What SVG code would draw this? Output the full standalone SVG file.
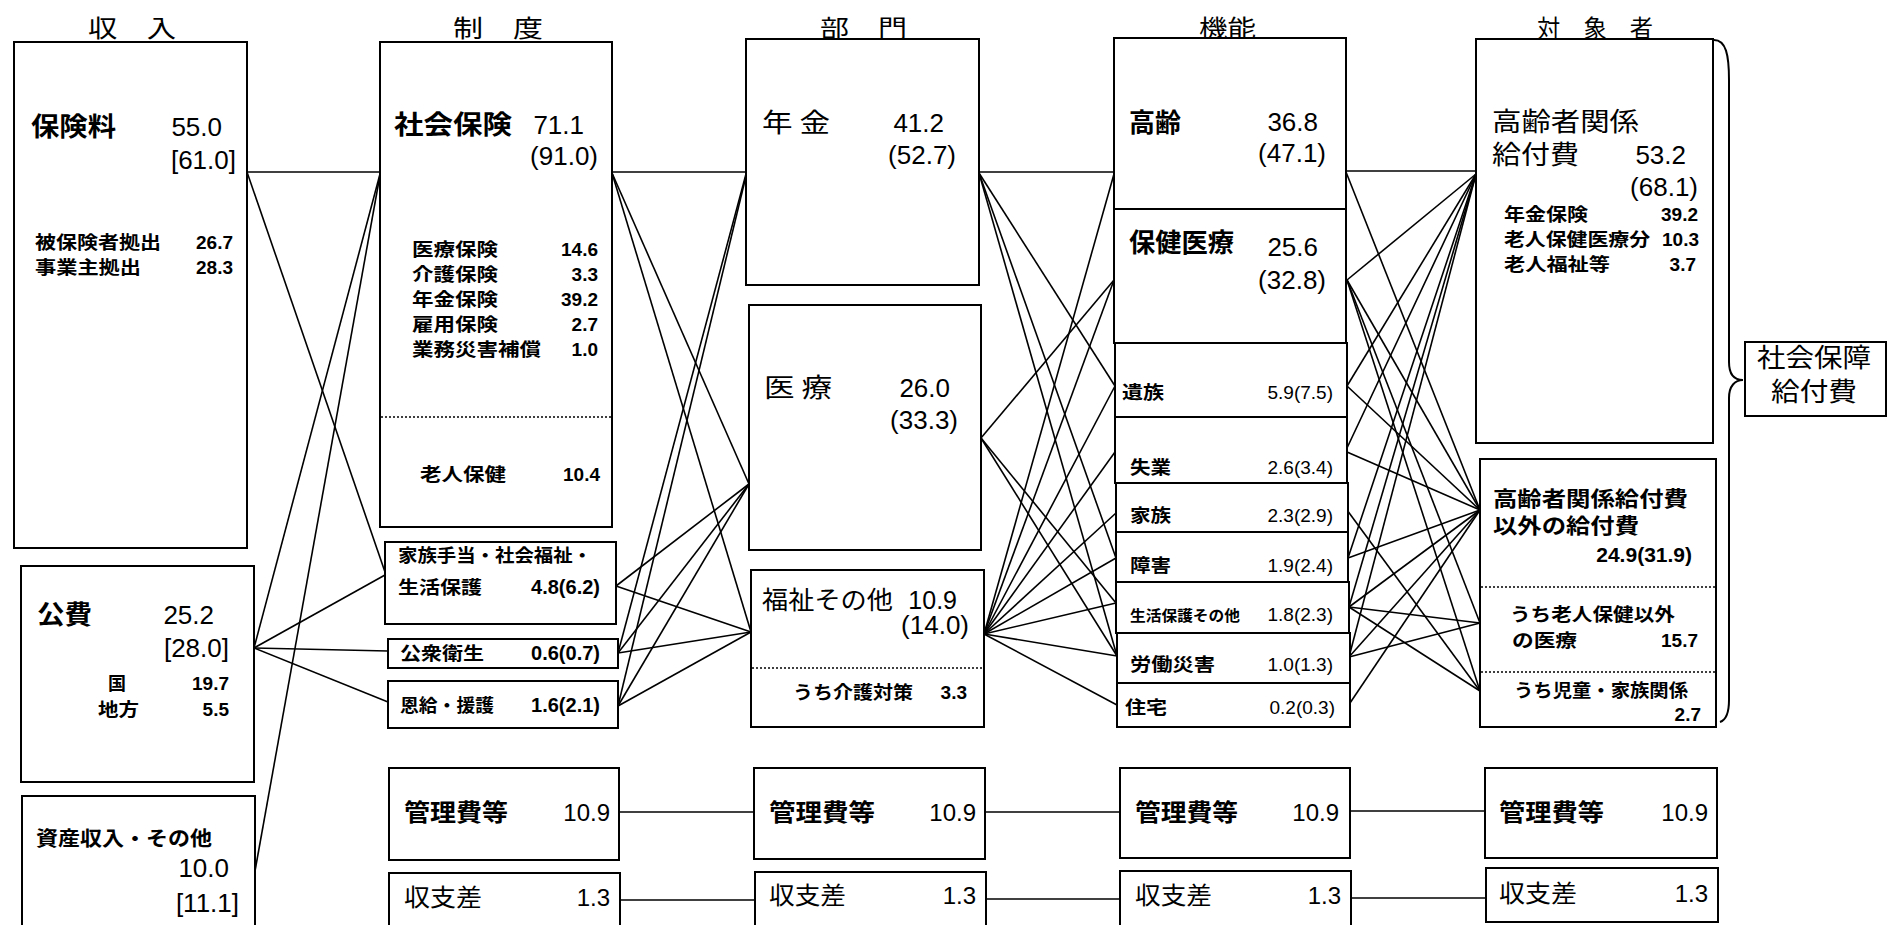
<svg xmlns="http://www.w3.org/2000/svg" width="1897" height="925" viewBox="0 0 1897 925">
<style>
.bg{fill:#fff}
.box{fill:#fff;stroke:#000;stroke-width:2}
.ln{stroke:#000;stroke-width:1.6;fill:none}
.dot{stroke:#000;stroke-width:1.6;stroke-dasharray:2 2;fill:none}
.j{font-family:"Noto Sans CJK JP","Noto Sans CJK SC",sans-serif;fill:#000}
.b{font-weight:700}
.n{font-family:"Liberation Sans",Arial,sans-serif;fill:#000;text-anchor:end}
.h{font-size:24px}
.L{font-size:26px}
.M{font-size:24px}
.S{font-size:18px}
.nL{font-size:26px}
.nM{font-size:24px}
.nS{font-size:19px}
</style>
<rect class="bg" x="0" y="0" width="1897" height="925"/>

<g id="headers">
<text class="j h" x="88" y="37" textLength="88" lengthAdjust="spacingAndGlyphs">収　入</text>
<text class="j h" x="453" y="37" textLength="90" lengthAdjust="spacingAndGlyphs">制　度</text>
<text class="j h" x="820" y="37" textLength="87" lengthAdjust="spacingAndGlyphs">部　門</text>
<text class="j h" x="1199" y="37" textLength="57" lengthAdjust="spacingAndGlyphs">機能</text>
<text class="j h" x="1537" y="37" textLength="116" lengthAdjust="spacingAndGlyphs">対　象　者</text>
</g>

<g id="connectors">
<line class="ln" x1="247" y1="172" x2="380" y2="172"/>
<line class="ln" x1="247" y1="172" x2="385" y2="572"/>
<line class="ln" x1="254" y1="648" x2="380" y2="174"/>
<line class="ln" x1="254" y1="648" x2="385" y2="575"/>
<line class="ln" x1="254" y1="648" x2="388" y2="651"/>
<line class="ln" x1="254" y1="648" x2="388" y2="702"/>
<line class="ln" x1="255" y1="871" x2="380" y2="175"/>
<line class="ln" x1="612" y1="172" x2="746" y2="172"/>
<line class="ln" x1="612" y1="173" x2="749" y2="484"/>
<line class="ln" x1="612" y1="173" x2="751" y2="632"/>
<line class="ln" x1="616" y1="586" x2="749" y2="484"/>
<line class="ln" x1="616" y1="586" x2="751" y2="632"/>
<line class="ln" x1="618" y1="653" x2="746" y2="174"/>
<line class="ln" x1="618" y1="653" x2="749" y2="484"/>
<line class="ln" x1="618" y1="653" x2="751" y2="632"/>
<line class="ln" x1="618" y1="706" x2="746" y2="176"/>
<line class="ln" x1="618" y1="706" x2="749" y2="484"/>
<line class="ln" x1="618" y1="706" x2="751" y2="632"/>
<line class="ln" x1="979" y1="172" x2="1114" y2="172"/>
<line class="ln" x1="979" y1="173" x2="1115" y2="386"/>
<line class="ln" x1="979" y1="173" x2="1116" y2="558"/>
<line class="ln" x1="979" y1="173" x2="1117" y2="656"/>
<line class="ln" x1="981" y1="438" x2="1114" y2="280"/>
<line class="ln" x1="981" y1="438" x2="1116" y2="603"/>
<line class="ln" x1="981" y1="438" x2="1117" y2="656"/>
<line class="ln" x1="984" y1="634" x2="1114" y2="174"/>
<line class="ln" x1="984" y1="634" x2="1114" y2="280"/>
<line class="ln" x1="984" y1="634" x2="1115" y2="386"/>
<line class="ln" x1="984" y1="634" x2="1115" y2="452"/>
<line class="ln" x1="984" y1="634" x2="1116" y2="513"/>
<line class="ln" x1="984" y1="634" x2="1116" y2="558"/>
<line class="ln" x1="984" y1="634" x2="1116" y2="603"/>
<line class="ln" x1="984" y1="634" x2="1117" y2="656"/>
<line class="ln" x1="984" y1="634" x2="1117" y2="705"/>
<line class="ln" x1="1346" y1="171" x2="1476" y2="171"/>
<line class="ln" x1="1346" y1="172" x2="1480" y2="510"/>
<line class="ln" x1="1347" y1="280" x2="1476" y2="174"/>
<line class="ln" x1="1347" y1="280" x2="1480" y2="510"/>
<line class="ln" x1="1347" y1="280" x2="1480" y2="623"/>
<line class="ln" x1="1347" y1="280" x2="1480" y2="691"/>
<line class="ln" x1="1347" y1="386" x2="1476" y2="174"/>
<line class="ln" x1="1347" y1="386" x2="1480" y2="510"/>
<line class="ln" x1="1347" y1="448" x2="1476" y2="174"/>
<line class="ln" x1="1347" y1="452" x2="1480" y2="510"/>
<line class="ln" x1="1347" y1="510" x2="1480" y2="691"/>
<line class="ln" x1="1348" y1="558" x2="1476" y2="174"/>
<line class="ln" x1="1348" y1="558" x2="1480" y2="510"/>
<line class="ln" x1="1349" y1="607" x2="1476" y2="174"/>
<line class="ln" x1="1349" y1="607" x2="1480" y2="510"/>
<line class="ln" x1="1349" y1="607" x2="1480" y2="623"/>
<line class="ln" x1="1349" y1="607" x2="1480" y2="691"/>
<line class="ln" x1="1349" y1="657" x2="1476" y2="174"/>
<line class="ln" x1="1349" y1="657" x2="1480" y2="510"/>
<line class="ln" x1="1349" y1="657" x2="1480" y2="623"/>
<line class="ln" x1="1350" y1="703" x2="1480" y2="510"/>
<line class="ln" x1="619" y1="812" x2="754" y2="812"/>
<line class="ln" x1="985" y1="812" x2="1120" y2="812"/>
<line class="ln" x1="1350" y1="811" x2="1485" y2="811"/>
<line class="ln" x1="620" y1="900" x2="755" y2="900"/>
<line class="ln" x1="986" y1="899" x2="1120" y2="899"/>
<line class="ln" x1="1351" y1="898" x2="1486" y2="898"/>
</g>

<g id="n-hokenryo">
<rect class="box" x="14" y="42" width="233" height="506"/>
<text class="j L b" x="31" y="136" textLength="85" lengthAdjust="spacingAndGlyphs">保険料</text>
<text class="n nL" x="222" y="136">55.0</text>
<text class="n nL" x="236" y="169">[61.0]</text>
<text class="j S b" x="35" y="249" textLength="126" lengthAdjust="spacingAndGlyphs">被保険者拠出</text>
<text class="n nS b" x="233" y="249">26.7</text>
<text class="j S b" x="35" y="274" textLength="106" lengthAdjust="spacingAndGlyphs">事業主拠出</text>
<text class="n nS b" x="233" y="274">28.3</text>
</g>
<g id="n-kouhi">
<rect class="box" x="21" y="566" width="233" height="216"/>
<text class="j L b" x="37" y="624" textLength="55" lengthAdjust="spacingAndGlyphs">公費</text>
<text class="n nL" x="214" y="624">25.2</text>
<text class="n nL" x="229" y="657">[28.0]</text>
<text class="j S b" x="108" y="690">国</text>
<text class="n nS b" x="229" y="690">19.7</text>
<text class="j S b" x="98" y="716" textLength="41" lengthAdjust="spacingAndGlyphs">地方</text>
<text class="n nS b" x="229" y="716">5.5</text>
</g>
<g id="n-shisan">
<rect class="box" x="22" y="796" width="233" height="150"/>
<text class="j b" style="font-size:20px" x="36" y="846" textLength="176" lengthAdjust="spacingAndGlyphs">資産収入・その他</text>
<text class="n nL" x="229" y="877">10.0</text>
<text class="n nL" x="239" y="912">[11.1]</text>
</g>

<g id="n-shakaihoken">
<rect class="box" x="380" y="42" width="232" height="485"/>
<line class="dot" x1="381" y1="417" x2="611" y2="417"/>
<text class="j L b" x="394" y="134" textLength="118" lengthAdjust="spacingAndGlyphs">社会保険</text>
<text class="n nL" x="584" y="134">71.1</text>
<text class="n nL" x="598" y="165">(91.0)</text>
<text class="j S b" x="412" y="256" textLength="86" lengthAdjust="spacingAndGlyphs">医療保険</text>
<text class="n nS b" x="598" y="256">14.6</text>
<text class="j S b" x="412" y="281" textLength="86" lengthAdjust="spacingAndGlyphs">介護保険</text>
<text class="n nS b" x="598" y="281">3.3</text>
<text class="j S b" x="412" y="306" textLength="86" lengthAdjust="spacingAndGlyphs">年金保険</text>
<text class="n nS b" x="598" y="306">39.2</text>
<text class="j S b" x="412" y="331" textLength="86" lengthAdjust="spacingAndGlyphs">雇用保険</text>
<text class="n nS b" x="598" y="331">2.7</text>
<text class="j S b" x="412" y="356" textLength="129" lengthAdjust="spacingAndGlyphs">業務災害補償</text>
<text class="n nS b" x="598" y="356">1.0</text>
<text class="j S b" x="420" y="481" textLength="86" lengthAdjust="spacingAndGlyphs">老人保健</text>
<text class="n nS b" x="600" y="481">10.4</text>
</g>
<g id="n-kazoku-teate">
<rect class="box" x="385" y="542" width="231" height="82"/>
<text class="j S b" x="398" y="562" textLength="194" lengthAdjust="spacingAndGlyphs">家族手当・社会福祉・</text>
<text class="j S b" x="398" y="594" textLength="84" lengthAdjust="spacingAndGlyphs">生活保護</text>
<text class="n b" style="font-size:20px" x="600" y="594">4.8(6.2)</text>
</g>
<g id="n-koshu">
<rect class="box" x="388" y="639" width="230" height="29"/>
<text class="j S b" x="400" y="660" textLength="84" lengthAdjust="spacingAndGlyphs">公衆衛生</text>
<text class="n b" style="font-size:20px" x="600" y="660">0.6(0.7)</text>
</g>
<g id="n-onkyu">
<rect class="box" x="388" y="681" width="230" height="47"/>
<text class="j S b" x="400" y="712" textLength="94" lengthAdjust="spacingAndGlyphs">恩給・援護</text>
<text class="n b" style="font-size:20px" x="600" y="712">1.6(2.1)</text>
</g>
<g id="n-kanri-1">
<rect class="box" x="389" y="768" width="230" height="92"/>
<text class="j M b" x="404" y="821" textLength="104" lengthAdjust="spacingAndGlyphs">管理費等</text>
<text class="n nM" x="610" y="821">10.9</text>
</g>
<g id="n-shushi-1">
<rect class="box" x="389" y="873" width="231" height="70"/>
<text class="j M" x="404" y="906" textLength="78" lengthAdjust="spacingAndGlyphs">収支差</text>
<text class="n nM" x="610" y="906">1.3</text>
</g>

<g id="n-nenkin">
<rect class="box" x="746" y="39" width="233" height="246"/>
<text class="j L" x="762" y="132" textLength="68" lengthAdjust="spacingAndGlyphs">年 金</text>
<text class="n nL" x="944" y="132">41.2</text>
<text class="n nL" x="956" y="164">(52.7)</text>
</g>
<g id="n-iryo">
<rect class="box" x="749" y="305" width="232" height="245"/>
<text class="j L" x="764" y="397" textLength="68" lengthAdjust="spacingAndGlyphs">医 療</text>
<text class="n nL" x="950" y="397">26.0</text>
<text class="n nL" x="958" y="429">(33.3)</text>
</g>
<g id="n-fukushi">
<rect class="box" x="751" y="570" width="233" height="157"/>
<line class="dot" x1="752" y1="668" x2="983" y2="668"/>
<text class="j" style="font-size:25px" x="762" y="609" textLength="131" lengthAdjust="spacingAndGlyphs">福祉その他</text>
<text class="n" style="font-size:25px" x="957" y="609">10.9</text>
<text class="n nL" x="969" y="634">(14.0)</text>
<text class="j S b" x="793" y="699" textLength="120" lengthAdjust="spacingAndGlyphs">うち介護対策</text>
<text class="n nS b" x="967" y="699">3.3</text>
</g>
<g id="n-kanri-2">
<rect class="box" x="754" y="768" width="231" height="91"/>
<text class="j M b" x="769" y="821" textLength="106" lengthAdjust="spacingAndGlyphs">管理費等</text>
<text class="n nM" x="976" y="821">10.9</text>
</g>
<g id="n-shushi-2">
<rect class="box" x="755" y="872" width="231" height="70"/>
<text class="j M" x="769" y="904" textLength="77" lengthAdjust="spacingAndGlyphs">収支差</text>
<text class="n nM" x="976" y="904">1.3</text>
</g>

<g id="n-korei">
<rect class="box" x="1114" y="38" width="232" height="171"/>
<text class="j L b" x="1129" y="132" textLength="52" lengthAdjust="spacingAndGlyphs">高齢</text>
<text class="n nL" x="1318" y="131">36.8</text>
<text class="n nL" x="1326" y="162">(47.1)</text>
</g>
<g id="n-hoken-iryo">
<rect class="box" x="1114" y="209" width="232" height="134"/>
<text class="j L b" x="1129" y="252" textLength="105" lengthAdjust="spacingAndGlyphs">保健医療</text>
<text class="n nL" x="1318" y="256">25.6</text>
<text class="n nL" x="1326" y="289">(32.8)</text>
</g>
<g id="n-izoku">
<rect class="box" x="1115" y="343" width="232" height="74"/>
<text class="j S b" x="1122" y="399" textLength="42" lengthAdjust="spacingAndGlyphs">遺族</text>
<text class="n nS" x="1333" y="399">5.9(7.5)</text>
</g>
<g id="n-shitsugyo">
<rect class="box" x="1115" y="417" width="232" height="66"/>
<text class="j S b" x="1130" y="474" textLength="41" lengthAdjust="spacingAndGlyphs">失業</text>
<text class="n nS" x="1333" y="474">2.6(3.4)</text>
</g>
<g id="n-kazoku">
<rect class="box" x="1116" y="483" width="232" height="49"/>
<text class="j S b" x="1130" y="522" textLength="41" lengthAdjust="spacingAndGlyphs">家族</text>
<text class="n nS" x="1333" y="522">2.3(2.9)</text>
</g>
<g id="n-shogai">
<rect class="box" x="1116" y="532" width="232" height="50"/>
<text class="j S b" x="1130" y="572" textLength="41" lengthAdjust="spacingAndGlyphs">障害</text>
<text class="n nS" x="1333" y="572">1.9(2.4)</text>
</g>
<g id="n-seikatsu">
<rect class="box" x="1116" y="582" width="233" height="51"/>
<text class="j b" style="font-size:15px" x="1130" y="621" textLength="110" lengthAdjust="spacingAndGlyphs">生活保護その他</text>
<text class="n nS" x="1333" y="621">1.8(2.3)</text>
</g>
<g id="n-rodo">
<rect class="box" x="1117" y="633" width="233" height="50"/>
<text class="j S b" x="1130" y="671" textLength="85" lengthAdjust="spacingAndGlyphs">労働災害</text>
<text class="n nS" x="1333" y="671">1.0(1.3)</text>
</g>
<g id="n-jutaku">
<rect class="box" x="1117" y="683" width="233" height="44"/>
<text class="j S b" x="1125" y="714" textLength="42" lengthAdjust="spacingAndGlyphs">住宅</text>
<text class="n nS" x="1335" y="714">0.2(0.3)</text>
</g>
<g id="n-kanri-3">
<rect class="box" x="1120" y="768" width="230" height="90"/>
<text class="j M b" x="1135" y="821" textLength="103" lengthAdjust="spacingAndGlyphs">管理費等</text>
<text class="n nM" x="1339" y="821">10.9</text>
</g>
<g id="n-shushi-3">
<rect class="box" x="1120" y="871" width="231" height="70"/>
<text class="j M" x="1135" y="904" textLength="77" lengthAdjust="spacingAndGlyphs">収支差</text>
<text class="n nM" x="1341" y="904">1.3</text>
</g>

<g id="n-koreisha">
<rect class="box" x="1476" y="39" width="237" height="404"/>
<text class="j L" x="1492" y="131" textLength="147" lengthAdjust="spacingAndGlyphs">高齢者関係</text>
<text class="j L" x="1492" y="164" textLength="87" lengthAdjust="spacingAndGlyphs">給付費</text>
<text class="n nL" x="1686" y="164">53.2</text>
<text class="n nL" x="1698" y="196">(68.1)</text>
<text class="j S b" x="1504" y="221" textLength="84" lengthAdjust="spacingAndGlyphs">年金保険</text>
<text class="n nS b" x="1698" y="221">39.2</text>
<text class="j S b" x="1504" y="246" textLength="146" lengthAdjust="spacingAndGlyphs">老人保健医療分</text>
<text class="n nS b" x="1699" y="246">10.3</text>
<text class="j S b" x="1504" y="271" textLength="106" lengthAdjust="spacingAndGlyphs">老人福祉等</text>
<text class="n nS b" x="1696" y="271">3.7</text>
</g>
<g id="n-igai">
<rect class="box" x="1480" y="459" width="236" height="268"/>
<line class="dot" x1="1481" y1="587" x2="1715" y2="587"/>
<line class="dot" x1="1481" y1="672" x2="1715" y2="672"/>
<text class="j b" style="font-size:21px" x="1493" y="506" textLength="195" lengthAdjust="spacingAndGlyphs">高齢者関係給付費</text>
<text class="j b" style="font-size:21px" x="1493" y="533" textLength="146" lengthAdjust="spacingAndGlyphs">以外の給付費</text>
<text class="n b" style="font-size:21px" x="1692" y="562">24.9(31.9)</text>
<text class="j S b" x="1510" y="621" textLength="165" lengthAdjust="spacingAndGlyphs">うち老人保健以外</text>
<text class="j S b" x="1512" y="647" textLength="65" lengthAdjust="spacingAndGlyphs">の医療</text>
<text class="n nS b" x="1698" y="647">15.7</text>
<text class="j S b" x="1514" y="697" textLength="174" lengthAdjust="spacingAndGlyphs">うち児童・家族関係</text>
<text class="n nS b" x="1701" y="721">2.7</text>
</g>
<g id="n-kanri-4">
<rect class="box" x="1485" y="768" width="232" height="90"/>
<text class="j M b" x="1499" y="821" textLength="105" lengthAdjust="spacingAndGlyphs">管理費等</text>
<text class="n nM" x="1708" y="821">10.9</text>
</g>
<g id="n-shushi-4">
<rect class="box" x="1486" y="868" width="232" height="54"/>
<text class="j M" x="1499" y="902" textLength="78" lengthAdjust="spacingAndGlyphs">収支差</text>
<text class="n nM" x="1708" y="902">1.3</text>
</g>

<g id="n-total">
<path class="ln" style="stroke-width:2" d="M1714,40 C1726,40 1729,55 1729,80 L1729,362 C1729,375 1735,380 1743,380 C1735,380 1729,386 1729,398 L1729,700 C1729,712 1726,720 1720,722"/>
<rect class="box" x="1745" y="342" width="141" height="74"/>
<text class="j" style="font-size:26px;text-anchor:middle" x="1814" y="367" textLength="114" lengthAdjust="spacingAndGlyphs">社会保障</text>
<text class="j" style="font-size:26px;text-anchor:middle" x="1814" y="401" textLength="86" lengthAdjust="spacingAndGlyphs">給付費</text>
</g>
</svg>
